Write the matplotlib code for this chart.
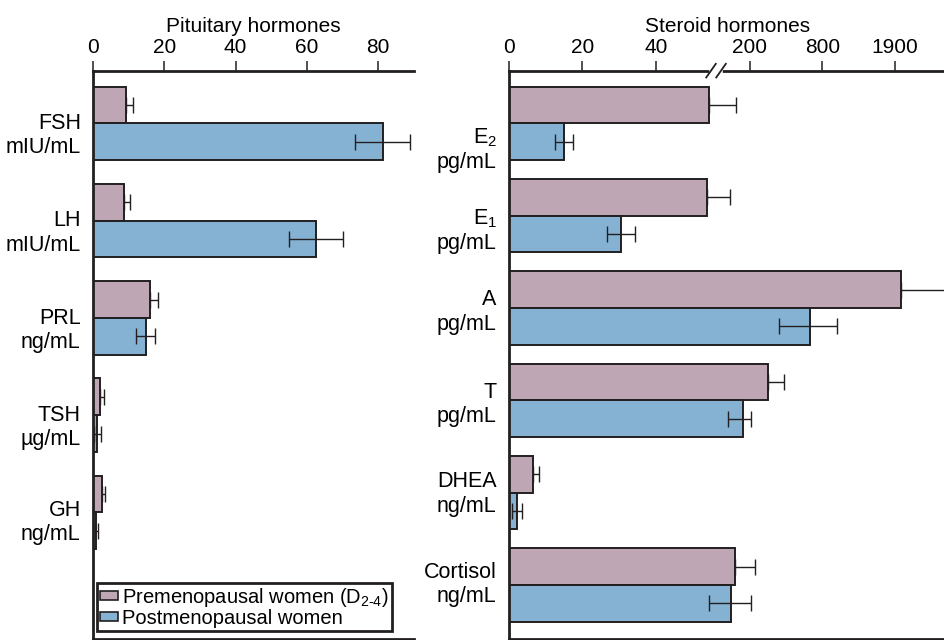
import numpy as np
import matplotlib
matplotlib.use("Agg")
import matplotlib.pyplot as plt
import matplotlib.transforms as mtransforms
from matplotlib.patches import Patch

plt.rcParams['font.family'] = ['Liberation Sans', 'DejaVu Sans']
plt.rcParams['mathtext.fontset'] = 'custom'
plt.rcParams['mathtext.rm'] = 'Liberation Sans'
plt.rcParams['mathtext.it'] = 'Liberation Sans:italic'
plt.rcParams['mathtext.default'] = 'rm'

# pituitary hormones (linear axis)
pit_labels = ["FSH\nmIU/mL", "LH\nmIU/mL", "PRL\nng/mL", "TSH\nµg/mL", "GH\nng/mL"]
pit_pre = [9.2, 8.7, 15.9, 1.8, 2.45]
pit_pre_err = [1.9, 1.5, 2.2, 1.3, 0.9]
pit_post = [81.4, 62.6, 14.7, 1.1, 0.85]
pit_post_err = [7.8, 7.6, 2.6, 1.0, 0.5]

# steroid hormones (broken axis)
ster_labels = ["E$_2$\npg/mL", "E$_1$\npg/mL", "A\npg/mL", "T\npg/mL",
               "DHEA\nng/mL", "Cortisol\nng/mL"]
ster_pre = [131, 126.5, 1983, 348, 6.56, 175]
ster_pre_err = [46, 39, 1000, 137, 1.6, 66]
ster_post = [15.0, 30.5, 694, 188, 2.1, 168]
ster_post_err_lo = [2.4, 3.9, 255, 25, 1.3, 37]
ster_post_err_hi = [2.4, 3.9, 324, 21, 1.3, 41]

pit_ticks = [0, 20, 40, 60, 80]
ster_ticks = [0, 20, 40, 200, 800, 1900]

# vertical nudge of the row labels (points, downwards)
pit_label_shift = [6, 6, 6, 6, 4]
ster_label_shift = [16, 8, 0, 0, -2, -3]

# piecewise scale for the steroid axis
scale_vals = [-100, 0, 40, 200, 800, 1900, 5000]
scale_pos = [-100, 0, 40, 65.7, 85.5, 105.4, 161.5]

def fwd(v):
    return np.interp(v, scale_vals, scale_pos)

def inv(p):
    return np.interp(p, scale_pos, scale_vals)

c_pre = '#bfa6b4'
c_post = '#85b1d3'
c_edge = '#231f20'

fig = plt.figure(figsize=(9.45, 6.4), dpi=100)
ax1 = fig.add_axes([0.0987, 0.0016, 0.3394, 0.888])
ax2 = fig.add_axes([0.5389, 0.0016, 0.4611, 0.888])

def draw(ax, labels, shifts, pre, pre_err, post, post_lo, post_hi, h):
    y = np.arange(len(labels))
    ax.barh(y - h / 2, pre, height=h, color=c_pre, edgecolor=c_edge, linewidth=1.4)
    ax.barh(y + h / 2, post, height=h, color=c_post, edgecolor=c_edge, linewidth=1.4)
    ax.errorbar(pre, y - h / 2, xerr=[np.zeros(len(pre)), pre_err], fmt='none',
                ecolor=c_edge, elinewidth=1, capsize=6, capthick=1)
    ax.errorbar(post, y + h / 2, xerr=[post_lo, post_hi], fmt='none',
                ecolor=c_edge, elinewidth=1, capsize=6, capthick=1)
    ax.set_yticks(y)
    ax.set_yticklabels(labels)
    ax.tick_params(axis='y', length=0, pad=9, labelsize=15.5)
    for lab, s in zip(ax.get_yticklabels(), shifts):
        off = mtransforms.ScaledTranslation(0, -s / 72, fig.dpi_scale_trans)
        lab.set_transform(lab.get_transform() + off)
    ax.xaxis.tick_top()
    ax.xaxis.set_label_position('top')
    ax.tick_params(axis='x', direction='out', length=7, width=1.1, pad=3,
                   labelsize=15, color=c_edge)
    for s in ['top', 'left', 'bottom']:
        ax.spines[s].set_linewidth(2)
        ax.spines[s].set_color(c_edge)
    ax.spines['right'].set_visible(False)

draw(ax1, pit_labels, pit_label_shift, pit_pre, pit_pre_err, pit_post,
     pit_post_err, pit_post_err, 0.378)
ax1.set_xlim(0, 90.2)
ax1.set_ylim(5.30, -0.541)
ax1.set_xticks(pit_ticks)
ax1.set_xlabel('Pituitary hormones', fontsize=15, labelpad=4)

ax2.set_xscale('function', functions=(fwd, inv))
draw(ax2, ster_labels, ster_label_shift, ster_pre, ster_pre_err, ster_post,
     ster_post_err_lo, ster_post_err_hi, 0.398)
ax2.set_xlim(0, 2652)
ax2.set_ylim(5.585, -0.57)
ax2.set_xticks(ster_ticks)
ax2.set_xticklabels([str(t) for t in ster_ticks])
ax2.minorticks_off()
ax2.set_xlabel('Steroid hormones', fontsize=15, labelpad=4)

# axis break marks
ax2.plot([0.466, 0.484], [1, 1], transform=ax2.transAxes, color='white',
         linewidth=4, clip_on=False, zorder=5)
for xc in [0.463, 0.486]:
    ax2.plot([xc - 0.011, xc + 0.011], [0.988, 1.012], transform=ax2.transAxes,
             color=c_edge, linewidth=1.3, clip_on=False, zorder=6)

handles = [Patch(facecolor=c_pre, edgecolor=c_edge, linewidth=1.2),
           Patch(facecolor=c_post, edgecolor=c_edge, linewidth=1.2)]
leg = ax1.legend(handles, ['Premenopausal women (D$_{\\text{2-4}}$)', 'Postmenopausal women'],
                 loc='lower left', bbox_to_anchor=(0.0125, 0.0146), borderaxespad=0,
                 fontsize=14.5, frameon=True, fancybox=False, handlelength=0.9,
                 handleheight=0.35, handletextpad=0.2, labelspacing=0.0,
                 borderpad=0.15)
leg.get_frame().set_edgecolor(c_edge)
leg.get_frame().set_linewidth(2)
leg.get_frame().set_alpha(1)

fig.savefig('out.png', dpi=100)
